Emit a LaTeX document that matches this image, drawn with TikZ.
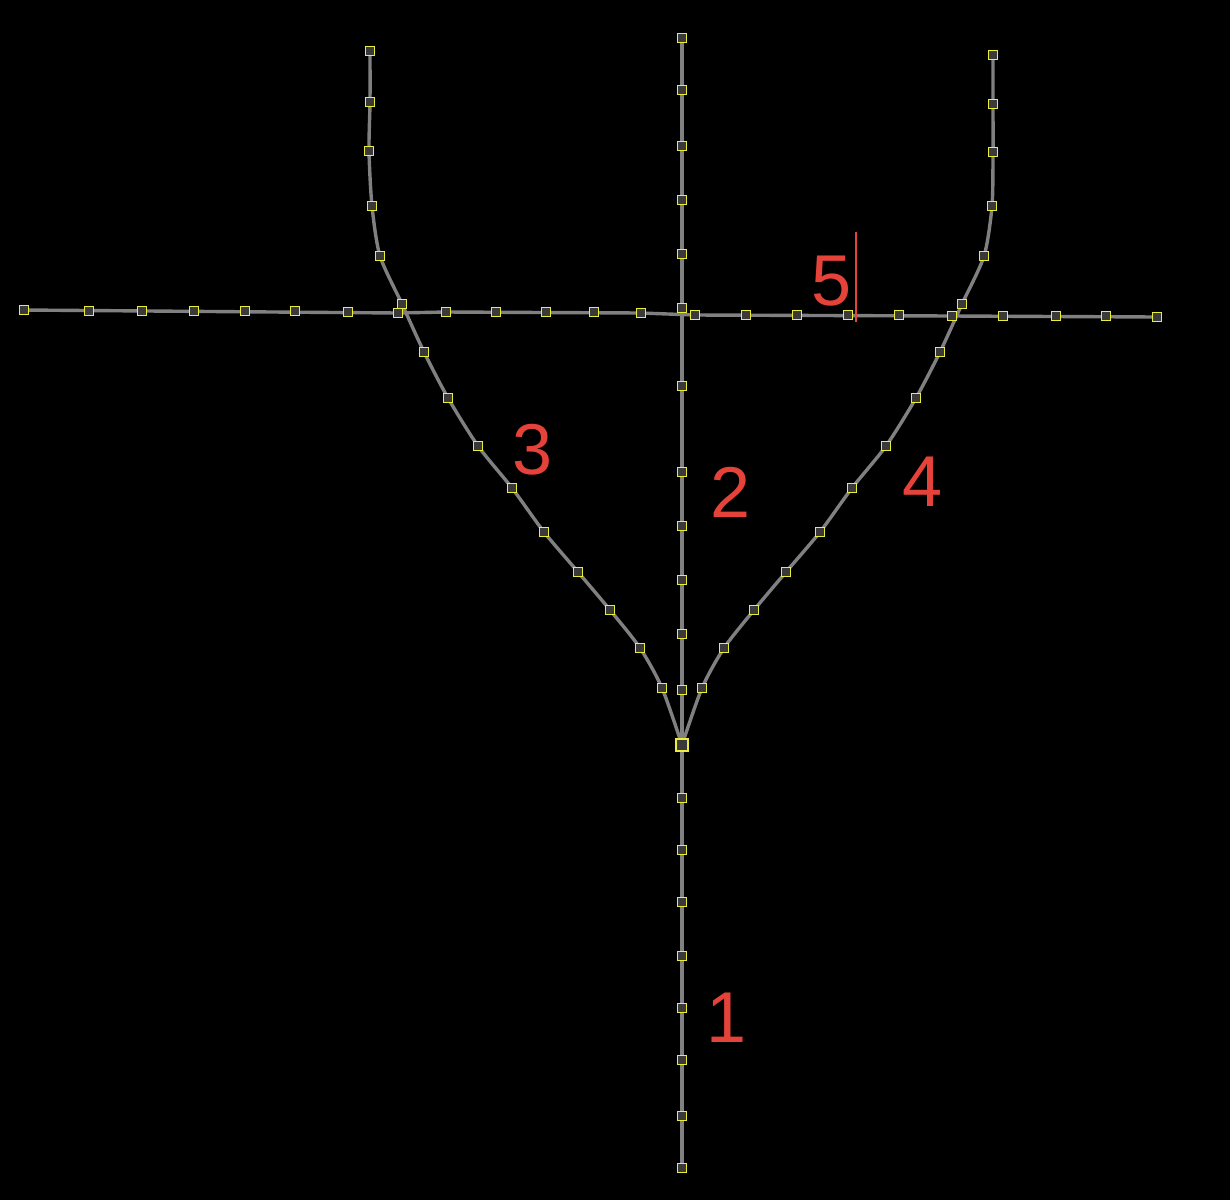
\documentclass[tikz,border=0pt]{standalone}
\usepackage{fontspec}
\setmainfont{Liberation Sans}
\definecolor{wiregray}{HTML}{808080}
\definecolor{ptyellow}{HTML}{ECEC3C}
\definecolor{ptfill}{HTML}{3A3A3A}
\definecolor{lblred}{HTML}{E5423A}
\begin{document}
\begin{tikzpicture}[x=1pt,y=-1pt,
  wire/.style={draw=wiregray, line width=3.4pt, line join=round, line cap=round},
  pt/.style={draw=ptyellow, fill=ptfill, line width=1.8pt, minimum size=9pt, inner sep=0pt, shape=rectangle},
  hub/.style={pt, minimum size=12pt},
  lbl/.style={text=lblred, font=\fontsize{72}{72}\selectfont, inner sep=0pt}]
\fill[black] (0,0) rectangle (1230,1200);
\useasboundingbox (0,0) rectangle (1230,1200);

% hub
\coordinate (C) at (682,745);

% branch 1 (bottom)
\foreach \y [count=\i] in {1168,1116,1060,1008,956,902,850,798}
  \coordinate (A\i) at (682,\y);
% branch 2 (centre vertical)
\foreach \y [count=\i] in {690,634,580,526,472,386,308,254,200,146,90,38}
  \coordinate (B\i) at (682,\y);
% branch 3 (left)
\foreach \x/\y [count=\i] in {662/688,640/648,610/610,578/572,544/532,512/488,478/446,448/398,424/352,402/304,380/256,372/206,369/151,370/102,370/51}
  \coordinate (L\i) at (\x,\y);
% branch 4 (right)
\foreach \x/\y [count=\i] in {702/688,724/648,754/610,786/572,820/532,852/488,886/446,916/398,940/352,962/304,984/256,992/206,993/152,993/104,993/55}
  \coordinate (R\i) at (\x,\y);
% horizontal 5
\foreach \x/\y [count=\i] in {24/310,89/311,142/311,194/311,245/311,295/311,348/312,398/313,446/312,496/312,546/312,594/312,641/313,695/315,746/315,797/315,848/315,899/315,952/316,1003/316,1056/316,1106/316,1157/317}
  \coordinate (H\i) at (\x,\y);

% connectors
\draw[wire] (A1) -- (A8) -- (C);
\draw[wire] (C) -- (B1) -- (B12);
\draw[wire] plot[smooth, tension=0.45] coordinates {(C) (L1) (L2) (L3) (L4) (L5) (L6) (L7) (L8) (L9) (L10) (L11) (L12) (L13) (L14) (L15)};
\draw[wire] plot[smooth, tension=0.45] coordinates {(C) (R1) (R2) (R3) (R4) (R5) (R6) (R7) (R8) (R9) (R10) (R11) (R12) (R13) (R14) (R15)};
\draw[wire] (H1) -- (H8) -- (H9) -- (H13) -- (H14) -- (H19) -- (H23);

% points
\foreach \i in {1,...,8} \node[pt] (a\i) at (A\i) {};
\foreach \i in {1,...,12} \node[pt] (b\i) at (B\i) {};
\foreach \i in {1,...,15} \node[pt] (l\i) at (L\i) {};
\foreach \i in {1,...,15} \node[pt] (r\i) at (R\i) {};
\foreach \i in {1,...,23} \node[pt] (h\i) at (H\i) {};
\node[hub] (hub) at (C) {};

% labels
\node[lbl] (n1) at (727,1018) {1};
\node[lbl] (n2) at (731,492) {2};
\node[lbl] (n3) at (533,450) {3};
\node[lbl] (n4) at (923,482) {4};
\node[lbl] (n5) at (832,281) {5};
\coordinate (cT) at (856,232);
\coordinate (cB) at (856,322);
\draw[lblred, line width=1.4pt] (cT) -- (cB);
\end{tikzpicture}
\end{document}
